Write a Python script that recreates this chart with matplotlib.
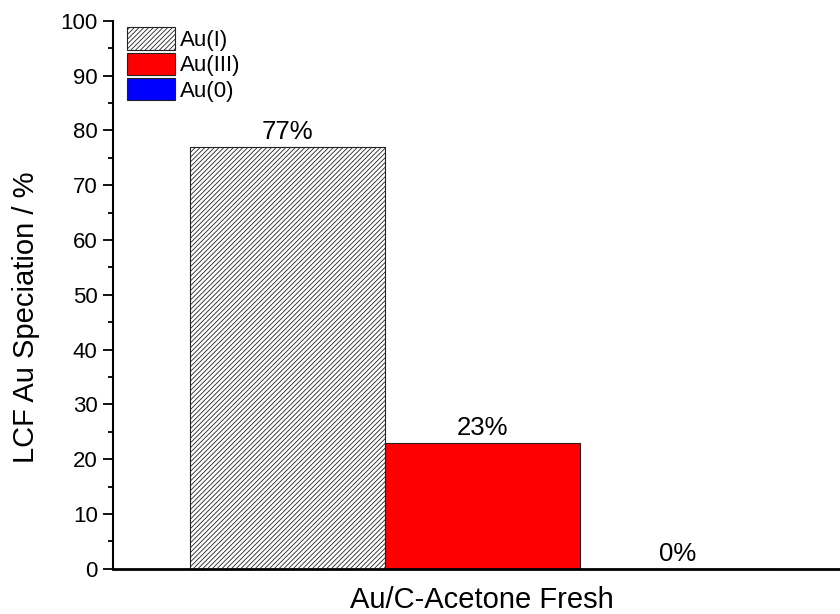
import matplotlib.pyplot as plt
from matplotlib.ticker import MultipleLocator

plt.rcParams['font.family'] = ['Liberation Sans', 'DejaVu Sans']
plt.rcParams['hatch.linewidth'] = 0.6
plt.rcParams['hatch.color'] = '#2a2a2a'

species = ["Au(I)", "Au(III)", "Au(0)"]
values = [77, 23, 0]
labels = ["77%", "23%", "0%"]
colors = ["white", "#ff0000", "#0000ff"]
hatches = ["///////", None, None]
sample = "Au/C-Acetone Fresh"

fig = plt.figure(figsize=(8.4, 6.14), dpi=100)
ax = fig.add_axes([0.1345, 0.0735, 0.8655, 0.8925])

xs = [0, 1, 2]
for x, v, c, h, s in zip(xs, values, colors, hatches, species):
    ax.bar(x, v, width=1.0, color=c, edgecolor="#222222", linewidth=0.8,
           hatch=h, label=s)
# percentage labels above each bar
for x, v, t in zip(xs, values, labels):
    ax.text(x, v + 0.5, t, ha="center", va="bottom", fontsize=18.5)

ax.set_xlim(-0.895, 2.833)
ax.set_ylim(0, 100)
ax.yaxis.set_major_locator(MultipleLocator(10))
ax.yaxis.set_minor_locator(MultipleLocator(5))
ax.set_xticks([])
ax.tick_params(axis="y", which="major", length=7, width=1.3, labelsize=16,
               direction="out", pad=4)
ax.tick_params(axis="y", which="minor", length=3.6, width=1.3, direction="out")
for side in ["top", "right"]:
    ax.spines[side].set_visible(False)
ax.spines["left"].set_linewidth(1.5)
ax.spines["bottom"].set_linewidth(2.0)

ax.set_ylabel("LCF Au Speciation / %", fontsize=21)
ax.yaxis.set_label_coords(-0.100, 0.46)
ax.set_xlabel(sample, fontsize=21, labelpad=12)
ax.xaxis.label.set_x(0.507)

ax.legend(loc="upper left", frameon=False, fontsize=16, handlelength=2.15,
          handleheight=1.15, handletextpad=0.25, labelspacing=0.08,
          borderaxespad=0.0, borderpad=0.0, bbox_to_anchor=(0.019, 0.988))

fig.savefig("out.png", dpi=100)
